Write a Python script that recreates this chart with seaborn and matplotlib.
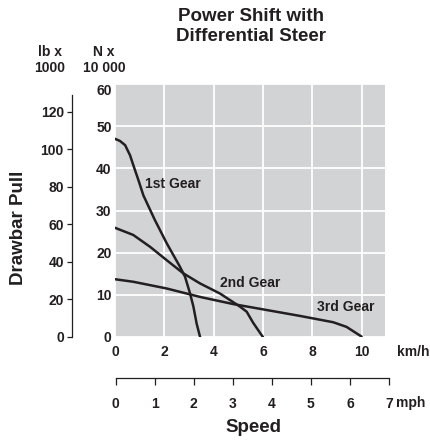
import numpy as np
import pandas as pd
import seaborn as sns
import matplotlib.pyplot as plt

# drawbar pull (N x 10 000) against speed (km/h)
gear1_kmh = [0, 0.2, 0.41, 0.61, 0.74, 0.95, 1.15, 1.62, 2.1, 2.63, 2.84, 3.04, 3.18, 3.31, 3.45]
gear1_pull = [47.0, 46.5, 45.5, 43.1, 40.8, 37.2, 33.6, 27.7, 22.2, 16.7, 14.3, 10.4, 7.2, 3.2, 0]

gear2_kmh = [0, 0.74, 1.42, 2.1, 2.77, 3.45, 4.26, 5.07, 5.34, 5.6, 5.88, 6.0]
gear2_pull = [25.9, 24.2, 21.4, 18.2, 15.1, 12.7, 10.3, 7.2, 6.0, 3.4, 1.0, 0]

gear3_kmh = [0, 0.74, 1.42, 2.1, 3.45, 4.8, 6.15, 7.5, 8.85, 9.39, 10.0]
gear3_pull = [13.7, 13.1, 12.3, 11.5, 9.5, 7.8, 6.4, 5.0, 3.5, 2.4, 0.1]

gear_names = ["1st Gear", "2nd Gear", "3rd Gear"]
label_pos = [(1.22, 36.4), (4.26, 12.7), (8.18, 7.0)]

kmh_ticks = [0, 2, 4, 6, 8, 10]
n_ticks = [0, 10, 20, 30, 40, 50, 60]
lb_ticks = [0, 20, 40, 60, 80, 100, 120]
mph_ticks = [0, 1, 2, 3, 4, 5, 6, 7]

N10K_TO_KLB = 2.2481

ink = "#231f20"
sns.set_style("white")
plt.rcParams["font.family"] = ["Liberation Sans", "DejaVu Sans"]
plt.rcParams["font.weight"] = "bold"
plt.rcParams["text.color"] = ink
plt.rcParams["xtick.color"] = ink
plt.rcParams["ytick.color"] = ink

W, H = 431, 443
fig = plt.figure(figsize=(W / 100, H / 100), dpi=100)


def box(l, t, r, b):
    return [l / W, 1 - b / H, (r - l) / W, (b - t) / H]


def bold_ticks(a):
    for lab in a.get_xticklabels() + a.get_yticklabels():
        lab.set_fontweight("bold")


# main plot
ax = fig.add_axes(box(115, 84, 385, 337))
ax.set_facecolor("#d2d3d5")
df = pd.concat(
    [
        pd.DataFrame({"kmh": x, "pull": y, "gear": g})
        for x, y, g in zip(
            [gear1_kmh, gear2_kmh, gear3_kmh],
            [gear1_pull, gear2_pull, gear3_pull],
            gear_names,
        )
    ]
)
for g in gear_names:
    sub = df[df["gear"] == g]
    sns.lineplot(data=sub, x="kmh", y="pull", sort=False, color=ink, lw=1.8, ax=ax)
for g, (x, y) in zip(gear_names, label_pos):
    ax.text(x, y, g, fontsize=10, fontweight="bold", va="center", ha="left")

ax.set_xlim(0, 10.95)
ax.set_ylim(0, 60)
ax.set_xticks(kmh_ticks)
ax.set_yticks(n_ticks)
ax.grid(True, color="white", lw=1.3)
ax.set_axisbelow(True)
for s in ax.spines.values():
    s.set_visible(False)
ax.tick_params(length=0, labelsize=10, pad=5.5, axis="x")
ax.tick_params(length=0, labelsize=10, pad=2.4, axis="y")
ax.set_xlabel("")
ax.set_ylabel("")
bold_ticks(ax)
# top label sits just below the top edge
ax.get_yticklabels()[-1].set_va("top")

# pound-force axis
axl = fig.add_axes(box(72, 84, 73, 337))
axl.patch.set_visible(False)
axl.set_ylim(0, 60 * N10K_TO_KLB)
axl.set_yticks(lb_ticks)
axl.set_xticks([])
for k in ["top", "right", "bottom"]:
    axl.spines[k].set_visible(False)
axl.spines["left"].set_bounds(0, 129)
axl.spines["left"].set_color(ink)
axl.spines["left"].set_linewidth(0.9)
axl.tick_params(axis="y", left=True, direction="out", length=3.6, width=0.9,
                labelsize=10, pad=2.3)
bold_ticks(axl)

# mph axis
axm = fig.add_axes(box(115.7, 370, 389, 378))
axm.patch.set_visible(False)
axm.set_xlim(0, 7)
axm.set_xticks(mph_ticks)
axm.set_yticks([])
for k in ["top", "right", "left"]:
    axm.spines[k].set_visible(False)
axm.spines["bottom"].set_color(ink)
axm.spines["bottom"].set_linewidth(0.9)
axm.tick_params(axis="x", bottom=True, direction="out", length=5, width=0.9,
                labelsize=10, pad=8.5)
bold_ticks(axm)

# texts
fig.text(397 / W, 1 - 352 / H, "km/h", fontsize=10, fontweight="bold", va="center", ha="left")
fig.text(396 / W, 1 - 403 / H, "mph", fontsize=10, fontweight="bold", va="center", ha="left")
fig.text(253 / W, 1 - 428 / H, "Speed", fontsize=13.5, fontweight="bold", va="center", ha="center")
fig.text(19 / W, 1 - 228 / H, "Drawbar Pull", fontsize=13.5, fontweight="bold",
         va="center", ha="center", rotation=90)
fig.text(50 / W, 1 - 60 / H, "lb x\n1000", fontsize=10, fontweight="bold",
         va="center", ha="center", ma="center", linespacing=1.15)
fig.text(104 / W, 1 - 60 / H, "N x\n10 000", fontsize=10, fontweight="bold",
         va="center", ha="center", ma="center", linespacing=1.15)
fig.text(251 / W, 1 - 8 / H, "Power Shift with\nDifferential Steer", fontsize=13.5,
         fontweight="bold", va="top", ha="center", ma="center", linespacing=1.2)

fig.savefig("out.png", dpi=100)
